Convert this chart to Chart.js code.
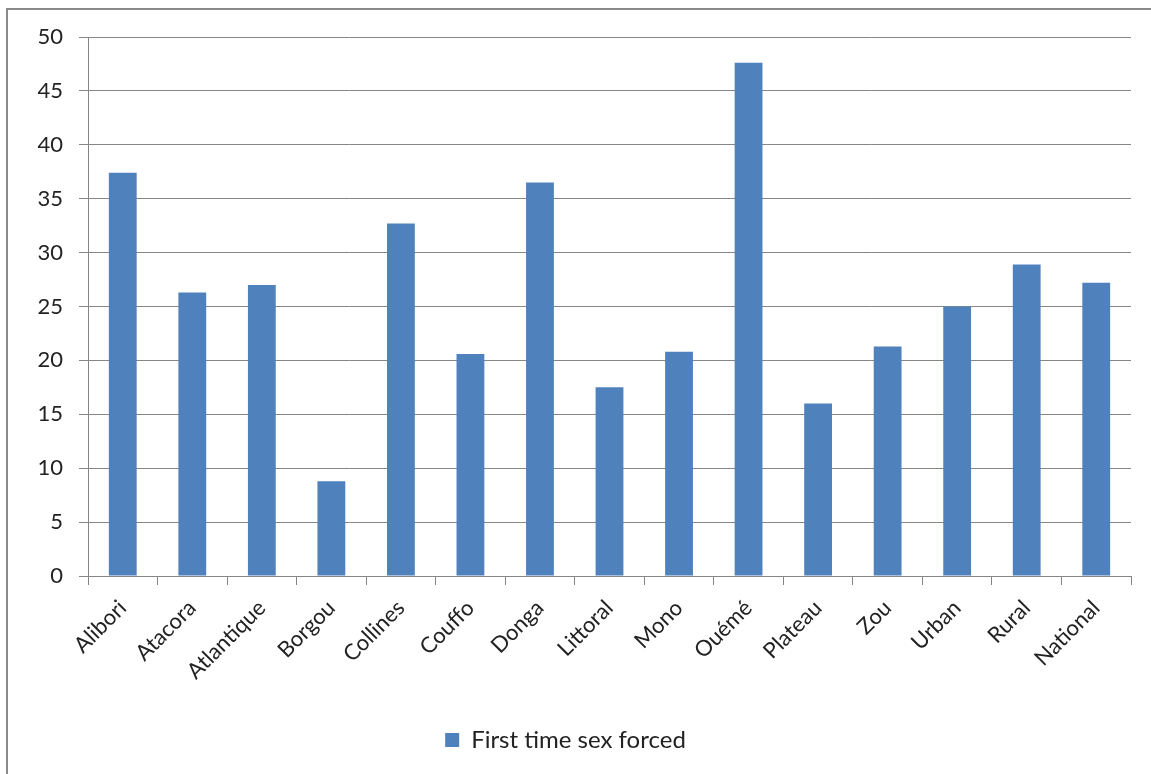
<!DOCTYPE html>
<html>
<head>
<meta charset="utf-8">
<script src="https://cdn.jsdelivr.net/npm/chart.js@4"></script>
<style>
  html, body { margin: 0; padding: 0; background: #fff; }
  #wrap { width: 1151px; height: 774px; position: relative; }
</style>
</head>
<body>
<div id="wrap"><canvas id="chart"></canvas></div>
<script>
// --- data ---
const regions = ['Alibori', 'Atacora', 'Atlantique', 'Borgou', 'Collines', 'Couffo', 'Donga',
  'Littoral', 'Mono', 'Ouémé', 'Plateau', 'Zou', 'Urban', 'Rural', 'National'];
const forcedPct = [37.4, 26.3, 27.0, 8.8, 32.7, 20.6, 36.5, 17.5, 20.8, 47.6, 16.0, 21.3, 25.0, 28.9, 27.2];
const seriesName = 'First time sex forced';
const yTicks = [0, 5, 10, 15, 20, 25, 30, 35, 40, 45, 50];

const FONT = "Lato, 'Open Sans', sans-serif";
const GRID = '#868686';

// outer frame like the Excel chart border
const framePlugin = {
  id: 'frame',
  beforeDraw(chart) {
    const c = chart.ctx;
    c.save();
    c.strokeStyle = '#8a8a8a';
    c.lineWidth = 2;
    c.strokeRect(7, 9, 1200, 800);
    c.restore();
  }
};

const ctx = document.getElementById('chart').getContext('2d');
const chart = new Chart(ctx, {
  type: 'bar',
  data: {
    labels: regions,
    datasets: [{
      label: seriesName,
      data: forcedPct,
      backgroundColor: '#4F81BD',
      borderWidth: 0,
      barPercentage: 0.4,
      categoryPercentage: 1.0
    }]
  },
  options: {
    responsive: true,
    maintainAspectRatio: false,
    animation: false,
    layout: { padding: { left: 0, right: 20, top: 37, bottom: 12 } },
    plugins: {
      tooltip: { enabled: false },
      legend: {
        position: 'bottom',
        labels: {
          font: { family: FONT, size: 24 },
          color: '#222',
          boxWidth: 14,
          boxHeight: 14,
          padding: 8
        }
      }
    },
    scales: {
      y: {
        min: 0,
        max: 50,
        afterBuildTicks(axis) { axis.ticks = yTicks.map(v => ({ value: v })); },
        afterFit(axis) { axis.width = 88; },
        ticks: { font: { family: FONT, size: 22 }, color: '#222', padding: 16 },
        grid: { color: GRID, tickLength: 9, lineWidth: 1 },
        border: { color: GRID }
      },
      x: {
        afterFit(axis) { axis.height = 144; },
        ticks: {
          font: { family: FONT, size: 22 },
          color: '#222',
          maxRotation: 45,
          minRotation: 45,
          padding: 10
        },
        grid: { offset: true, drawOnChartArea: false, color: GRID, tickLength: 9 },
        border: { color: GRID }
      }
    }
  },
  plugins: [framePlugin]
});
</script>
</body>
</html>
